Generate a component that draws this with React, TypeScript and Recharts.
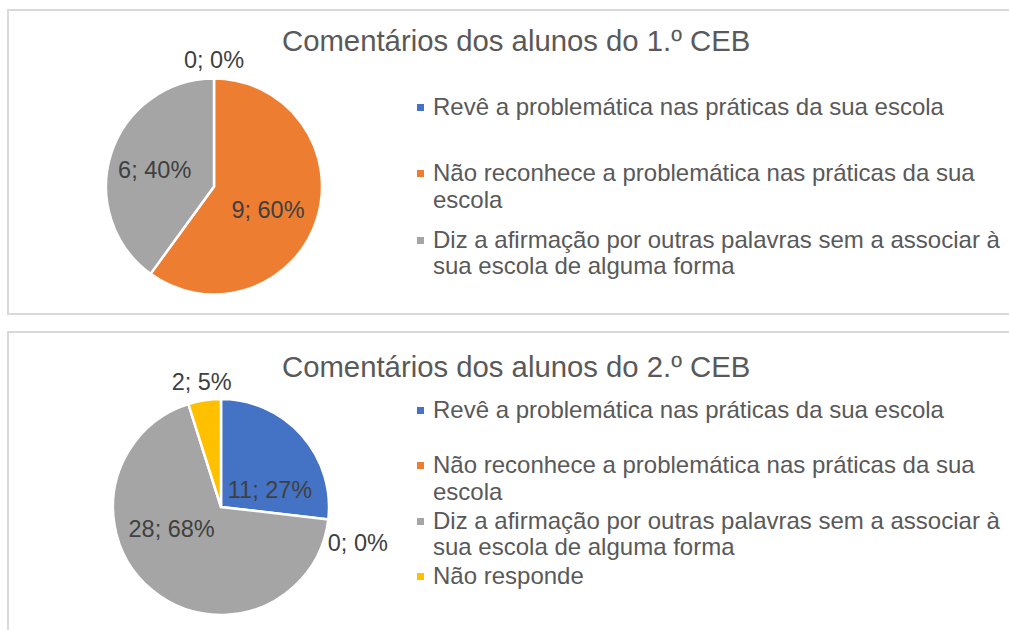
import { PieChart, Pie, Cell, Legend } from "recharts";

const categories1 = [
  "Revê a problemática nas práticas da sua escola",
  "Não reconhece a problemática nas práticas da sua escola",
  "Diz a afirmação por outras palavras sem a associar à sua escola de alguma forma",
];
const values1 = [0, 9, 6];

const categories2 = [...categories1, "Não responde"];
const values2 = [11, 0, 28, 2];

const sliceColors = ["#4472C4", "#ED7D31", "#A5A5A5", "#FFC000"];

const title1 = "Comentários dos alunos do 1.º CEB";
const title2 = "Comentários dos alunos do 2.º CEB";

const FONT = '"Liberation Sans", Arial, sans-serif';
const RAD = Math.PI / 180;

// Excel "best fit" label placement: angle shift (deg) and radius factor per slice
const labelPlace1 = { shift: [0, -5.5, 2.4], radius: [1.17, 0.545, 0.57] };
const labelPlace2 = { shift: [-22.7, -8.1, -26.5, 0], radius: [0.48, 1.31, 0.5, 1.17] };

function makeLabel(place: { shift: number[]; radius: number[] }) {
  return (props: any) => {
    const { cx, cy, midAngle, outerRadius, value, percent, index } = props;
    const a = (midAngle + place.shift[index]) * RAD;
    const r = outerRadius * place.radius[index];
    const x = cx + r * Math.cos(a);
    const y = cy - r * Math.sin(a);
    return (
      <text
        x={x}
        y={y}
        textAnchor="middle"
        dominantBaseline="central"
        fill="#404040"
        fontSize={23.5}
        fontFamily={FONT}
      >
        {`${value}; ${Math.round(percent * 100)}%`}
      </text>
    );
  };
}

function makeLegend(slot: number, names: string[]) {
  return (props: any) => {
    // keep the data order, not the alphabetical one
    const items = [...props.payload].sort(
      (a: any, b: any) => names.indexOf(a.value) - names.indexOf(b.value)
    );
    return (
      <div style={{ fontFamily: FONT, fontSize: 24, color: "#595959" }}>
        {items.map((p: any, i: number) => (
          <div
            key={i}
            style={{ height: slot, display: "flex", alignItems: "flex-start" }}
          >
            <span
              style={{
                width: 7,
                height: 7,
                background: p.color,
                marginTop: 10,
                marginRight: 9,
                flex: "none",
              }}
            />
            <span style={{ lineHeight: "26.5px" }}>{p.value}</span>
          </div>
        ))}
      </div>
    );
  };
}

interface PanelProps {
  top: number;
  height: number;
  title: string;
  titleTop: number;
  names: string[];
  values: number[];
  cx: number;
  cy: number;
  legendTop: number;
  slot: number;
  place: { shift: number[]; radius: number[] };
}

function PiePanel(p: PanelProps) {
  const data = p.names.map((name, i) => ({ name, value: p.values[i] }));
  return (
    <div style={{ position: "absolute", left: 0, top: p.top, width: 1009, height: p.height }}>
      <div
        style={{
          position: "absolute",
          left: 0,
          top: p.titleTop,
          width: 1009,
          fontFamily: FONT,
          fontSize: 29.3,
          lineHeight: "32px",
          color: "#595959",
          paddingLeft: 282,
          boxSizing: "border-box",
        }}
      >
        {p.title}
      </div>
      <PieChart width={1009} height={p.height} margin={{ top: 0, right: 0, bottom: 0, left: 0 }}>
        <Pie
          data={data}
          dataKey="value"
          nameKey="name"
          cx={p.cx}
          cy={p.cy}
          outerRadius={108}
          startAngle={90}
          endAngle={-270}
          stroke="#ffffff"
          strokeWidth={2.5}
          labelLine={false}
          label={makeLabel(p.place)}
          isAnimationActive={false}
        >
          {data.map((_, i) => (
            <Cell key={i} fill={sliceColors[i]} />
          ))}
        </Pie>
        <Legend
          layout="vertical"
          align="right"
          verticalAlign="top"
          content={makeLegend(p.slot, p.names)}
          wrapperStyle={{ left: 417, top: p.legendTop, width: 590 }}
        />
      </PieChart>
    </div>
  );
}

export default function App() {
  return (
    <div
      style={{
        position: "absolute",
        left: 0,
        top: 0,
        width: 1009,
        height: 630,
        background: "#ffffff",
        overflow: "hidden",
      }}
    >
      <div
        style={{
          position: "absolute",
          left: 7,
          top: 9,
          width: 1020,
          height: 302,
          border: "2px solid #d9d9d9",
        }}
      />
      <div
        style={{
          position: "absolute",
          left: 7,
          top: 331,
          width: 1020,
          height: 320,
          border: "2px solid #d9d9d9",
        }}
      />
      <PiePanel
        top={0}
        height={320}
        title={title1}
        titleTop={25}
        names={categories1}
        values={values1}
        cx={214}
        cy={186.5}
        legendTop={93.5}
        slot={66.5}
        place={labelPlace1}
      />
      <PiePanel
        top={320}
        height={310}
        title={title2}
        titleTop={31}
        names={categories2}
        values={values2}
        cx={221}
        cy={187}
        legendTop={76.5}
        slot={55.5}
        place={labelPlace2}
      />
    </div>
  );
}
